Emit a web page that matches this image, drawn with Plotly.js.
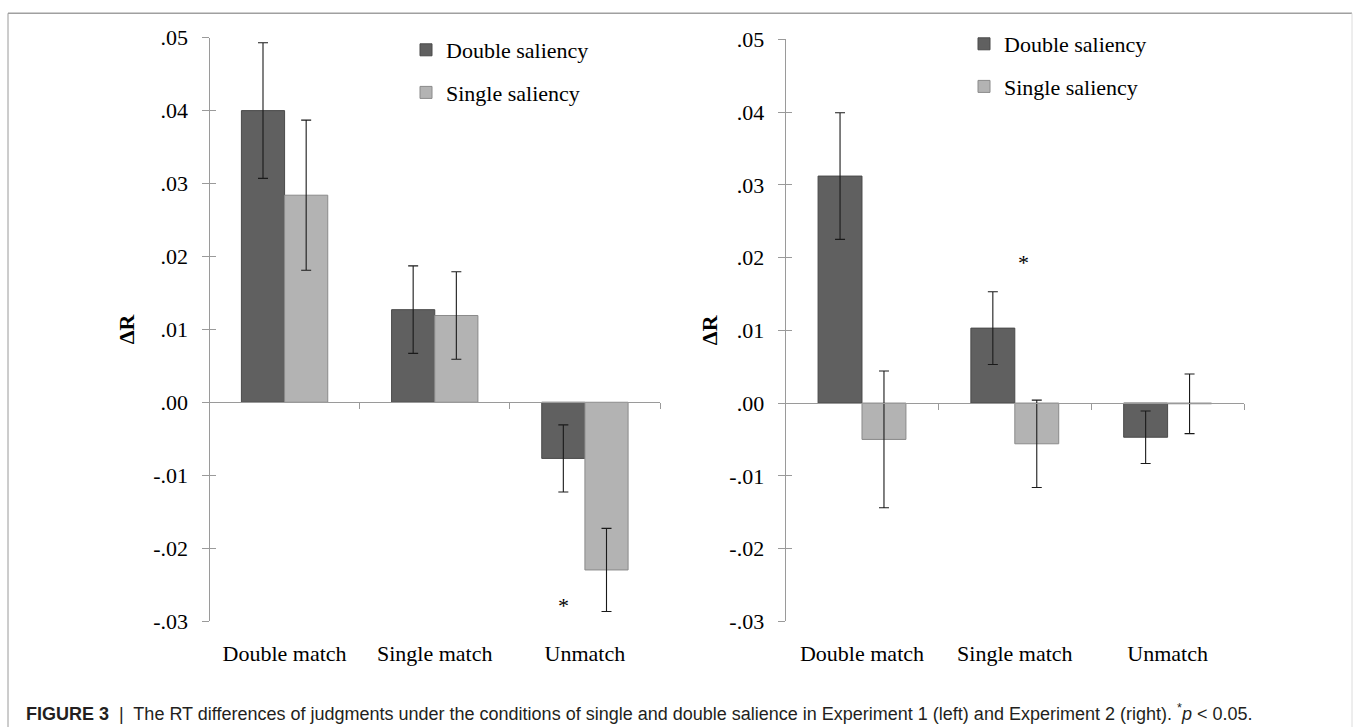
<!DOCTYPE html>
<html>
<head>
<meta charset="utf-8">
<script src="https://cdn.plot.ly/plotly-3.0.1.min.js"></script>
<style>html,body{margin:0;padding:0;background:#fff;}#chart{width:1355px;height:727px;}</style>
</head>
<body>
<div id="chart"></div>
<script>
// ---- data ----
const categories = ["Double match", "Single match", "Unmatch"];
const seriesNames = ["Double saliency", "Single saliency"];
// Experiment 1 (left)
const exp1Double = [0.0400, 0.0127, -0.0077];
const exp1DoubleErr = [0.0093, 0.0060, 0.0046];
const exp1Single = [0.0284, 0.0119, -0.0230];
const exp1SingleErr = [0.0103, 0.0060, 0.0057];
// Experiment 2 (right)
const exp2Double = [0.0312, 0.0103, -0.0047];
const exp2DoubleErr = [0.0087, 0.0050, 0.0036];
const exp2Single = [-0.0050, -0.0056, -0.0001];
const exp2SingleErr = [0.0094, 0.0060, 0.0041];
// significance markers
const exp1Star = {category: "Unmatch", y: -0.0279};
const exp2Star = {category: "Single match", y: 0.0193};
// y-axis ticks
const yTickVals = [-0.03, -0.02, -0.01, 0, 0.01, 0.02, 0.03, 0.04, 0.05];
const yTickText = ["-.03", "-.02", "-.01", ".00", ".01", ".02", ".03", ".04", ".05"];
const yRange = [-0.03, 0.05];
const catBoundaries = [0.5, 1.5, 2.5];

// ---- style ----
const W = 1355, H = 727;
const serif = "Liberation Serif, Times New Roman, serif";
const darkCol = "#606060", lightCol = "#b3b3b3";
const axisCol = "#9a9a9a";
const errCol = "#1a1a1a";
const leftX = [209.5 / W, 660 / W];
const leftY = [1 - 621 / H, 1 - 37.7 / H];
const rightX = [785.6 / W, 1244 / W];
const rightY = [1 - 621.3 / H, 1 - 39.3 / H];

function zeroPos(dom) {
  return dom[0] + (0 - yRange[0]) / (yRange[1] - yRange[0]) * (dom[1] - dom[0]);
}

function barTrace(y, err, name, color, lineCol, xa, ya, legend, group) {
  return {
    type: "bar", x: categories, y: y, name: name,
    xaxis: xa, yaxis: ya, legend: legend, legendgroup: group,
    marker: {color: color, line: {color: lineCol, width: 1}},
    error_y: {type: "data", array: err, visible: true, color: errCol, thickness: 1.1, width: 5},
    hoverinfo: "skip"
  };
}

const data = [
  barTrace(exp1Double, exp1DoubleErr, seriesNames[0], darkCol, "#4a4a4a", "x", "y", "legend", "a"),
  barTrace(exp1Single, exp1SingleErr, seriesNames[1], lightCol, "#8a8a8a", "x", "y", "legend", "b"),
  barTrace(exp2Double, exp2DoubleErr, seriesNames[0], darkCol, "#4a4a4a", "x2", "y2", "legend2", "c"),
  barTrace(exp2Single, exp2SingleErr, seriesNames[1], lightCol, "#8a8a8a", "x2", "y2", "legend2", "d"),
  {type: "scatter", mode: "markers", x: [null], y: [null], xaxis: "x3", yaxis: "y3", showlegend: false, hoverinfo: "skip"},
  {type: "scatter", mode: "markers", x: [null], y: [null], xaxis: "x4", yaxis: "y4", showlegend: false, hoverinfo: "skip"}
];

function mainY(dom, anchor, standoff) {
  return {
    domain: dom, anchor: anchor, range: yRange, fixedrange: true,
    tickmode: "array", tickvals: yTickVals, ticktext: yTickText,
    ticks: "outside", ticklen: 7, tickcolor: axisCol, tickwidth: 1,
    ticklabelstandoff: 9,
    showline: true, linecolor: axisCol, linewidth: 1,
    showgrid: false, zeroline: false,
    tickfont: {family: serif, size: 22, color: "#000"},
    title: {text: "<b>ΔR</b>", font: {family: serif, size: 22, color: "#000"}, standoff: standoff}
  };
}
function mainX(dom, anchor) {
  return {
    domain: dom, anchor: anchor, type: "category", fixedrange: true,
    showline: false, ticks: "", showgrid: false, zeroline: false,
    ticklabelstandoff: 17,
    tickfont: {family: serif, size: 22, color: "#000"}
  };
}
function zeroX(over, dom) {
  return {
    overlaying: over, type: "linear", range: [-0.5, 2.5], anchor: "free", position: zeroPos(dom),
    fixedrange: true, showline: true, linecolor: axisCol, linewidth: 1,
    ticks: "outside", ticklen: 6, tickcolor: axisCol, tickwidth: 1,
    tickmode: "array", tickvals: catBoundaries, showticklabels: false,
    showgrid: false, zeroline: false
  };
}
function innerY(over, anchor) {
  return {
    overlaying: over, anchor: anchor, range: yRange, fixedrange: true,
    tickmode: "array", tickvals: yTickVals, showticklabels: false,
    ticks: "inside", ticklen: 6, tickcolor: axisCol, tickwidth: 1,
    showline: false, showgrid: false, zeroline: false
  };
}

const legendBase = {
  xanchor: "left", yanchor: "top", bgcolor: "rgba(0,0,0,0)", borderwidth: 0,
  font: {family: serif, size: 22, color: "#000"},
  traceorder: "grouped", tracegroupgap: 11, itemclick: false, itemdoubleclick: false
};

const layout = {
  width: W, height: H, margin: {l: 0, r: 0, t: 0, b: 0},
  paper_bgcolor: "#fff", plot_bgcolor: "rgba(0,0,0,0)",
  barmode: "group", bargap: 0.425, bargroupgap: 0,
  showlegend: true,
  xaxis: mainX(leftX, "y"),
  yaxis: mainY(leftY, "x", 12),
  xaxis2: mainX(rightX, "y2"),
  yaxis2: mainY(rightY, "x2", 5),
  xaxis3: zeroX("x", leftY),
  yaxis3: innerY("y", "x"),
  xaxis4: zeroX("x2", rightY),
  yaxis4: innerY("y2", "x2"),
  legend: Object.assign({}, legendBase, {x: 406 / W, y: 1 - 29 / H}),
  legend2: Object.assign({}, legendBase, {x: 964 / W, y: 1 - 23 / H}),
  annotations: [
    {xref: "x", yref: "y", x: exp1Star.category, y: exp1Star.y, text: "*", showarrow: false,
     xshift: -21, font: {family: serif, size: 22, color: "#000"}},
    {xref: "x2", yref: "y2", x: exp2Star.category, y: exp2Star.y, text: "*", showarrow: false,
     xshift: 9, font: {family: serif, size: 22, color: "#000"}},
    {xref: "paper", yref: "paper", x: 24 / W, y: 1 - 712 / H, xanchor: "left", yanchor: "middle",
     showarrow: false, align: "left",
     text: "<b>FIGURE 3</b>  |  The RT differences of judgments under the conditions of single and double salience in Experiment 1 (left) and Experiment 2 (right). <sup>*</sup><i>p</i> &lt; 0.05.",
     font: {family: "Liberation Sans, Arial, sans-serif", size: 18, color: "#231f20"}}
  ],
  shapes: [
    {type: "line", xref: "paper", yref: "paper", x0: 8 / W, x1: 1352 / W, y0: 1 - 13.3 / H, y1: 1 - 13.3 / H,
     line: {color: "#a0a0a0", width: 1.5}},
    {type: "line", xref: "paper", yref: "paper", x0: 8 / W, x1: 8 / W, y0: 1 - 13.3 / H, y1: -0.05,
     line: {color: "#9a9a9a", width: 1}},
    {type: "line", xref: "paper", yref: "paper", x0: 1352 / W, x1: 1352 / W, y0: 1 - 13.3 / H, y1: -0.05,
     line: {color: "#dcdcdc", width: 1}}
  ]
};

Plotly.newPlot("chart", data, layout, {staticPlot: true, displayModeBar: false});
</script>
</body>
</html>
